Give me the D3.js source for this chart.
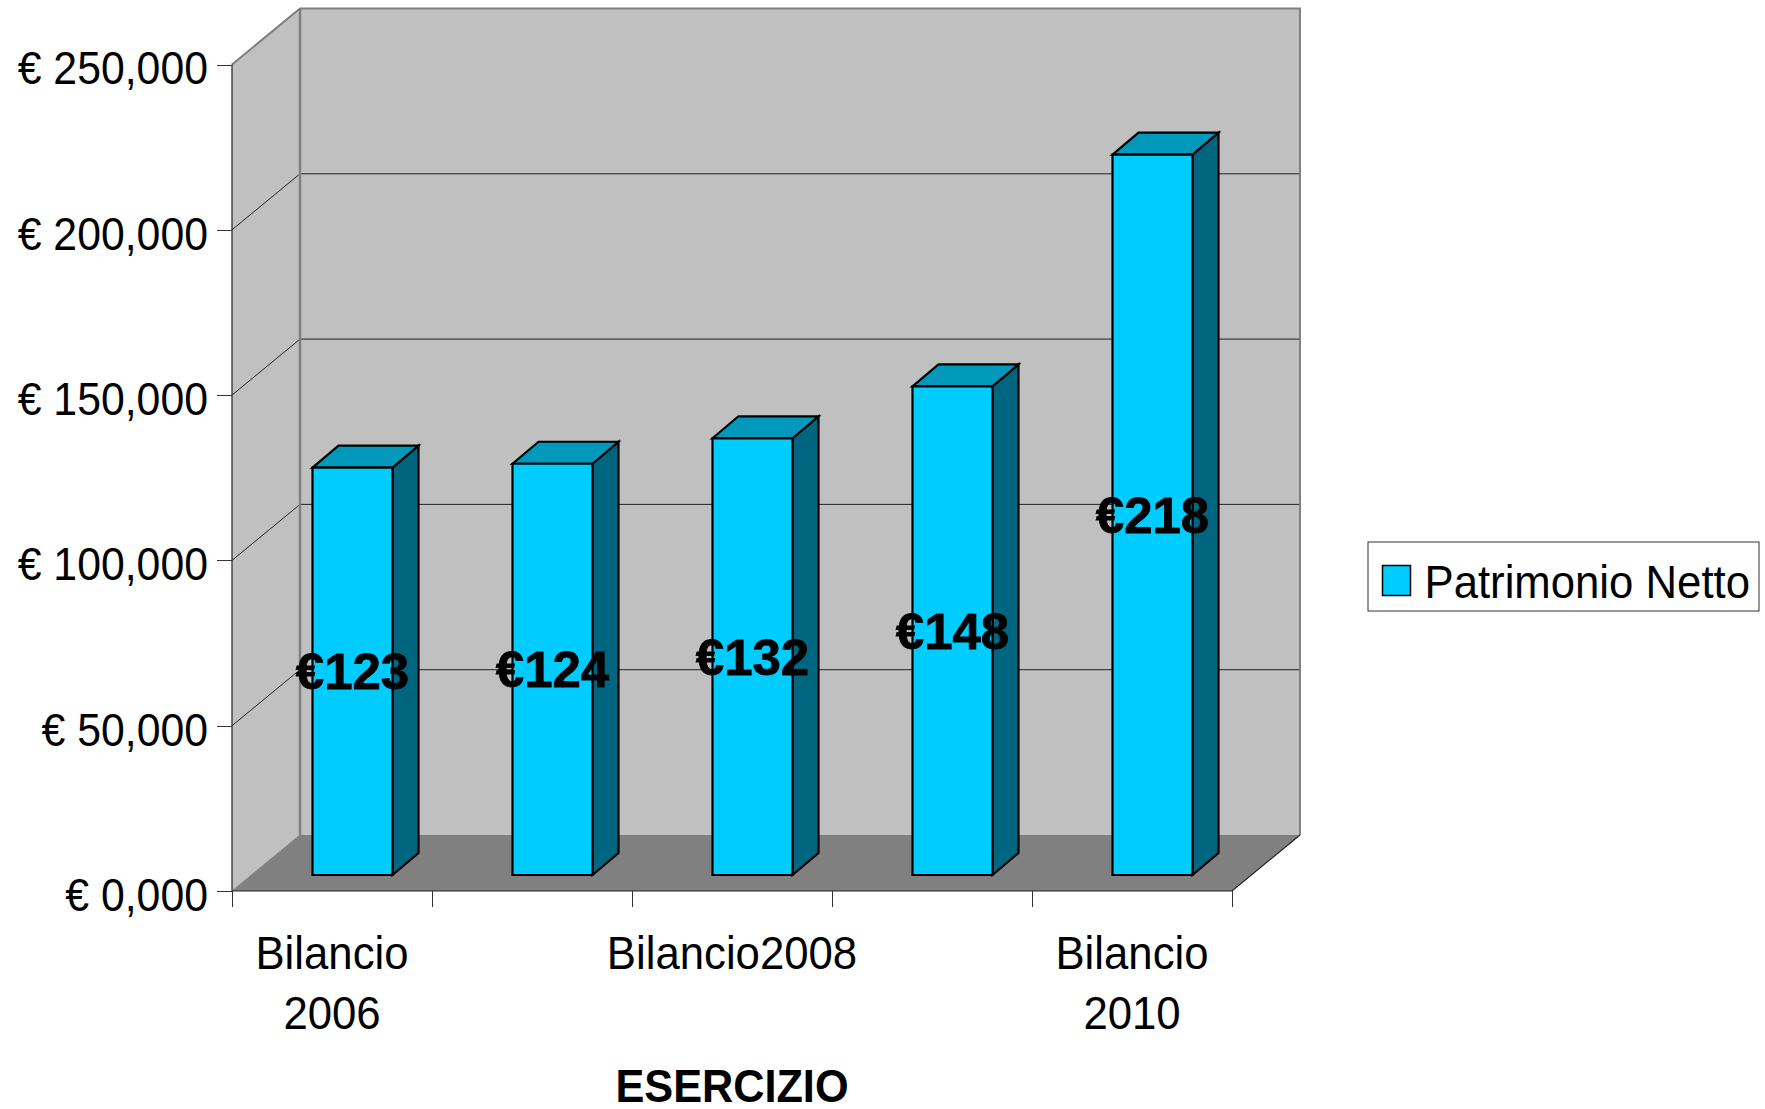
<!DOCTYPE html>
<meta charset="utf-8">
<style>

body {
  margin: 0;
  background: #fff;
  font-family: "Liberation Sans", sans-serif;
}

.axis path {
  display: none;
}

.axis line {
  stroke: #333;
  shape-rendering: crispEdges;
}

.axis text {
  fill: #000;
  font-size: 46px;
}

.bar path {
  stroke: #000;
  stroke-width: 2.2;
  stroke-linejoin: miter;
}

</style>
<body>
<script src="https://d3js.org/d3.v7.min.js"></script>
<script>

// valori (migliaia di euro)
var categories = ["2006", "2007", "2008", "2009", "2010"];
var values = [123.2, 124.4, 132.1, 147.8, 217.9];
var valueLabels = ["€123", "€124", "€132", "€148", "€218"];
var yTicks = [0, 50, 100, 150, 200, 250];
var yTickLabels = ["€ 0,000", "€ 50,000", "€ 100,000", "€ 150,000", "€ 200,000", "€ 250,000"];
var xLabelLines = [["Bilancio", "2006"], [], ["Bilancio2008"], [], ["Bilancio", "2010"]];
var seriesName = "Patrimonio Netto";
var xTitle = "ESERCIZIO";

var width = 1765, height = 1109;
var left = 232, right = 1232, top_ = 64.5, bottom = 891;

// profondita della scatola e delle barre
var depth = {x: 68, y: -56};
var barOffset = {x: 20.5, y: -16};
var barDepth = {x: 26, y: -22};

var y = d3.scaleLinear().domain([0, 250]).range([bottom, top_]);
var x = d3.scaleBand().domain(categories).range([left, right]).paddingInner(0.6).paddingOuter(0.3);
var xTicks = d3.scaleLinear().domain([0, categories.length]).range([left, right]);

var line = d3.line();

// il font dell'originale e un po piu stretto
function squeeze(sel, k) {
  sel.each(function() {
    d3.select(this)
        .attr("textLength", this.getComputedTextLength() * k)
        .attr("lengthAdjust", "spacingAndGlyphs");
  });
}

var svg = d3.select("body").append("svg")
    .attr("width", width)
    .attr("height", height)
    .style("display", "block");

// pareti
svg.append("path")
    .attr("d", line([[left, bottom], [left, top_], [left + depth.x, top_ + depth.y], [left + depth.x, bottom + depth.y]]) + "Z")
    .style("fill", "#c0c0c0");
svg.append("rect")
    .attr("x", left + depth.x)
    .attr("y", top_ + depth.y)
    .attr("width", right - left)
    .attr("height", bottom - top_)
    .style("fill", "#c0c0c0");
svg.append("path")
    .attr("d", line([[left, bottom], [right, bottom], [right + depth.x, bottom + depth.y], [left + depth.x, bottom + depth.y]]) + "Z")
    .style("fill", "#808080");

// griglia
svg.selectAll(".grid")
    .data(yTicks.slice(1, -1))
  .enter().append("path")
    .attr("class", "grid")
    .attr("d", function(d) {
      return line([[left, y(d)], [left + depth.x, y(d) + depth.y], [right + depth.x, y(d) + depth.y]]);
    })
    .style("fill", "none")
    .style("stroke", "#222")
    .style("stroke-width", 1);

// bordi
svg.append("path")
    .attr("d", line([[left, top_], [left + depth.x, top_ + depth.y], [right + depth.x, top_ + depth.y], [right + depth.x, bottom + depth.y]]))
    .style("fill", "none")
    .style("stroke", "#808080")
    .style("stroke-width", 2);
svg.append("line")
    .attr("x1", left + depth.x).attr("x2", left + depth.x)
    .attr("y1", top_ + depth.y).attr("y2", bottom + depth.y)
    .style("stroke", "#808080")
    .style("stroke-width", 2.5);
svg.append("line")
    .attr("x1", left).attr("x2", left + depth.x)
    .attr("y1", bottom).attr("y2", bottom + depth.y)
    .style("stroke", "#808080")
    .style("stroke-width", 1);
svg.append("path")
    .attr("d", line([[left, top_], [left, bottom], [right, bottom], [right + depth.x, bottom + depth.y]]))
    .style("fill", "none")
    .style("stroke", "#222")
    .style("stroke-width", 1.2);

// assi
var yAxis = svg.append("g")
    .attr("class", "y axis")
    .attr("transform", "translate(" + left + ",0)")
    .call(d3.axisLeft(y).tickValues(yTicks).tickSize(15).tickPadding(9)
      .tickFormat(function(d, i) { return yTickLabels[i]; }));
yAxis.selectAll("text")
    .attr("dy", "0.42em")
    .call(squeeze, 0.93);

svg.append("g")
    .attr("class", "x axis")
    .attr("transform", "translate(0," + bottom + ")")
    .call(d3.axisBottom(xTicks).tickValues(d3.range(categories.length + 1)).tickSize(16).tickFormat(""));

// barre
var bar = svg.selectAll(".bar")
    .data(values)
  .enter().append("g")
    .attr("class", "bar")
    .attr("transform", "translate(" + barOffset.x + "," + barOffset.y + ")");

function barX(i) { return x(categories[i]); }

bar.append("path")
    .attr("d", function(d, i) {
      var x0 = barX(i) + x.bandwidth();
      return line([[x0, y(d)], [x0 + barDepth.x, y(d) + barDepth.y], [x0 + barDepth.x, y(0) + barDepth.y], [x0, y(0)]]) + "Z";
    })
    .style("fill", "#006680");
bar.append("path")
    .attr("d", function(d, i) {
      var x0 = barX(i), x1 = x0 + x.bandwidth();
      return line([[x0, y(d)], [x0 + barDepth.x, y(d) + barDepth.y], [x1 + barDepth.x, y(d) + barDepth.y], [x1, y(d)]]) + "Z";
    })
    .style("fill", "#0099bb");
bar.append("path")
    .attr("d", function(d, i) {
      var x0 = barX(i), x1 = x0 + x.bandwidth();
      return line([[x0, y(d)], [x1, y(d)], [x1, y(0)], [x0, y(0)]]) + "Z";
    })
    .style("fill", "#00ccff");

// etichette dei valori
svg.selectAll(".value")
    .data(values)
  .enter().append("text")
    .attr("class", "value")
    .attr("x", function(d, i) { return barX(i) + x.bandwidth() / 2 + barOffset.x; })
    .attr("y", function(d) { return (y(d) + y(0)) / 2 + barOffset.y + 18; })
    .attr("text-anchor", "middle")
    .style("font-size", "50px")
    .style("font-weight", "bold")
    .style("stroke", "#000")
    .style("stroke-width", 0.8)
    .text(function(d, i) { return valueLabels[i]; })
    .call(squeeze, 1.02);

// etichette categorie
svg.selectAll(".cat")
    .data(xLabelLines)
  .enter().append("text")
    .attr("class", "cat")
    .attr("text-anchor", "middle")
    .style("font-size", "46px")
    .each(function(d, i) {
      d3.select(this).selectAll("tspan")
          .data(d)
        .enter().append("tspan")
          .attr("x", left + (i + 0.5) * x.step())
          .attr("y", function(t, j) { return 969 + j * 60; })
          .text(function(t) { return t; })
          .call(squeeze, 0.95);
    });

svg.append("text")
    .attr("x", left + 2.5 * x.step())
    .attr("y", 1102)
    .attr("text-anchor", "middle")
    .style("font-size", "46px")
    .style("font-weight", "bold")
    .text(xTitle)
    .call(squeeze, 0.94);

// legenda
var legend = svg.append("g");
legend.append("rect")
    .attr("x", 1368).attr("y", 542)
    .attr("width", 391).attr("height", 69)
    .style("fill", "#fff")
    .style("stroke", "#333")
    .style("stroke-width", 1);
legend.append("rect")
    .attr("x", 1382.5).attr("y", 565.5)
    .attr("width", 28).attr("height", 30)
    .style("fill", "#00ccff")
    .style("stroke", "#000")
    .style("stroke-width", 1.5);
legend.append("text")
    .attr("x", 1424.5).attr("y", 598)
    .style("font-size", "46px")
    .text(seriesName)
    .call(squeeze, 0.95);

</script>
